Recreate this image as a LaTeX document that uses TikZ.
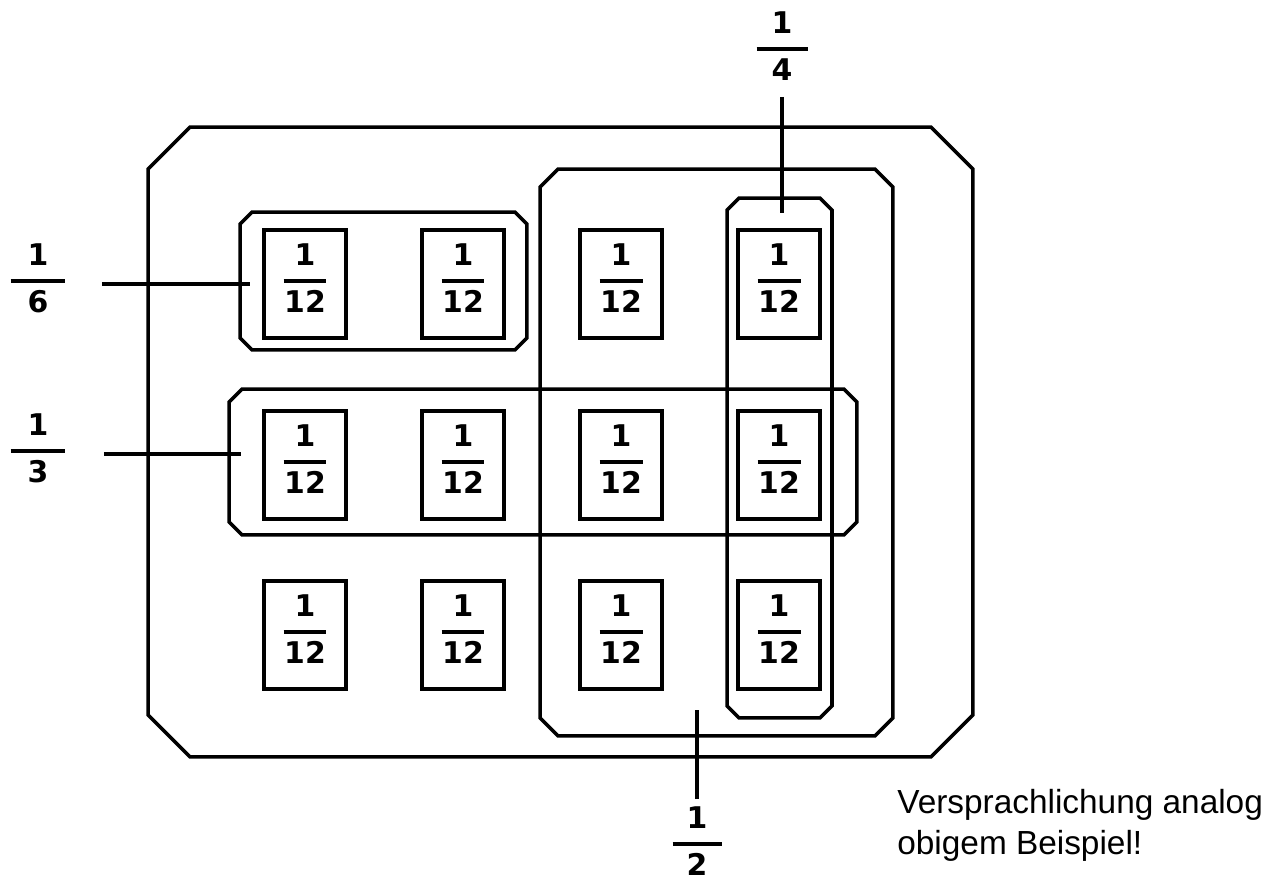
\documentclass[tikz,border=0pt]{standalone}
\usepackage{fontspec}
\setmainfont{Liberation Sans}
\newfontfamily\hand{DejaVu Sans}
\newcommand{\bruch}[3]{${\hbox to #1{\hss\vrule depth 5.8pt width 0pt\relax #2\hss}\above 2.2pt\hbox to #1{\hss\vrule height 14.2pt depth 7pt width 0pt\relax #3\hss}}$}
\newcommand{\fase}[2]{\draw[rahmen] ([xshift=#2]#1.north west) -- ([xshift=-#2]#1.north east) -- ([yshift=-#2]#1.north east) -- ([yshift=#2]#1.south east) -- ([xshift=-#2]#1.south east) -- ([xshift=#2]#1.south west) -- ([yshift=#2]#1.south west) -- ([yshift=-#2]#1.north west) -- cycle;}
\begin{document}
\begin{tikzpicture}[x=0.02cm,y=-0.02cm,every node/.style={font=\hand\bfseries\fontsize{17}{20}\selectfont},
  feld/.style={draw,line width=2pt,minimum width=1.64cm,minimum height=2.16cm,inner sep=0pt},
  gruppe/.style={inner sep=0pt,outer sep=0pt},
  rahmen/.style={line width=2pt,line join=miter},
  strich/.style={line width=2pt}]
\useasboundingbox (0,0) rectangle (1272,885);
% die zwoelf Felder
\foreach \r/\y in {1/284,2/465,3/635}
  \foreach \c/\x in {1/305,2/463,3/621,4/779}
    \node[feld] (f\r\c) at (\x,\y) {\bruch{0.86cm}{1}{12}};
% Gruppen
\node[gruppe,minimum width=16.5cm,minimum height=12.6cm] (ganz) at (560.5,442) {};
\node[gruppe,minimum width=7.06cm,minimum height=11.34cm] (g2) at (716.5,452.5) {};
\node[gruppe,minimum width=2.1cm,minimum height=10.4cm] (g4) at (779.5,458) {};
\node[gruppe,minimum width=12.56cm,minimum height=2.92cm] (g3) at (543,462) {};
\node[gruppe,minimum width=5.74cm,minimum height=2.76cm] (g6) at (383.5,281) {};
\fase{ganz}{0.84cm}
\fase{g2}{0.36cm}
\fase{g4}{0.24cm}
\fase{g3}{0.26cm}
\fase{g6}{0.24cm}
% Beschriftung
\node (l4) at (782,52) {\bruch{1.02cm}{1}{4}};
\node (l6) at (38,284) {\bruch{1.1cm}{1}{6}};
\node (l3) at (38,454) {\bruch{1.1cm}{1}{3}};
\node (l2) at (697,847) {\bruch{0.98cm}{1}{2}};
\draw[strich,shorten <=0.9cm,shorten >=-0.3cm] (l4.center) -- (l4.center |- g4.north);
\draw[strich,shorten <=1.28cm,shorten >=-0.2cm] (l6.center) -- (l6.center -| g6.west);
\draw[strich,shorten <=1.32cm,shorten >=-0.24cm] (l3.center) -- (l3.center -| g3.west);
\draw[strich,shorten <=0.96cm,shorten >=-0.52cm] (l2.center) -- (l2.center |- g2.south);
\node[font=\fontsize{19}{23.5}\selectfont,align=left,anchor=north west,inner sep=0pt] (hinweis) at (897,789) {Versprachlichung analog\\obigem Beispiel!};
\end{tikzpicture}
\end{document}
